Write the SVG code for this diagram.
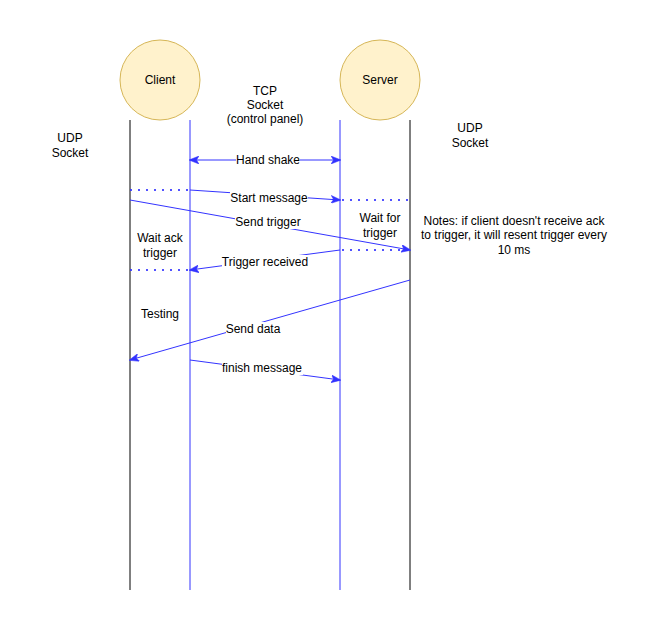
<svg xmlns="http://www.w3.org/2000/svg" width="651" height="632" viewBox="0 0 651 632">
<style>
text{font-family:"Liberation Sans",Arial,sans-serif;font-size:12px;fill:#000;text-anchor:middle;dominant-baseline:central}
.life{stroke:#000;stroke-width:1;fill:none}
.blue{stroke:#3333ff;stroke-width:1;fill:none}
.dot{stroke:#3333ff;stroke-width:2;stroke-dasharray:2 6;fill:none;opacity:0.85}
.actor{fill:#fff2cc;stroke:#d6b656;stroke-width:1}
.bg{fill:#fff}
</style>
<defs>
<marker id="arr" markerUnits="userSpaceOnUse" viewBox="0 0 10 8" markerWidth="10" markerHeight="8" refX="9" refY="4" orient="auto-start-reverse">
<path d="M0,0 L10,4 L0,8 L2.5,4 z" fill="#3333ff" stroke="#3333ff" stroke-width="0.5"/>
</marker>
</defs>
<rect width="651" height="632" fill="#fff"/>
<g id="client"><circle class="actor" cx="160" cy="80" r="40"/><text x="160" y="80">Client</text></g>
<g id="server"><circle class="actor" cx="380" cy="80" r="40"/><text x="380" y="80">Server</text></g>
<g id="lifelines">
<line class="life" x1="130" y1="120" x2="130" y2="590"/>
<line class="blue" x1="190" y1="120" x2="190" y2="590"/>
<line class="blue" x1="340" y1="120" x2="340" y2="590"/>
<line class="life" x1="410" y1="120" x2="410" y2="590"/>
</g>
<g id="labels">
<text x="70" y="138">UDP</text><text x="70" y="153">Socket</text>
<text x="265" y="91">TCP</text><text x="265" y="105">Socket</text><text x="265" y="119">(control panel)</text>
<text x="470" y="128">UDP</text><text x="470" y="143">Socket</text>
<text x="380" y="218">Wait for</text><text x="380" y="233">trigger</text>
<text x="160" y="238">Wait ack</text><text x="160" y="253">trigger</text>
<text x="160" y="314">Testing</text>
<text x="514" y="221">Notes: if client doesn't receive ack</text>
<text x="514" y="235">to trigger, it will resent trigger every</text>
<text x="514" y="250">10 ms</text>
</g>
<g id="connectors">
<line class="blue" x1="190" y1="160" x2="340" y2="160" marker-start="url(#arr)" marker-end="url(#arr)"/>
<line class="dot" x1="130" y1="190" x2="190" y2="190"/>
<line class="blue" x1="190" y1="190" x2="340" y2="200" marker-end="url(#arr)"/>
<line class="dot" x1="342" y1="200" x2="410" y2="200"/>
<line class="blue" x1="130" y1="200" x2="410" y2="250" marker-end="url(#arr)"/>
<line class="dot" x1="342" y1="250" x2="408" y2="250"/>
<line class="blue" x1="340" y1="250" x2="190" y2="270" marker-end="url(#arr)"/>
<line class="dot" x1="130" y1="270" x2="190" y2="270"/>
<line class="blue" x1="410" y1="280" x2="130" y2="360" marker-end="url(#arr)"/>
<line class="blue" x1="190" y1="360" x2="340" y2="380" marker-end="url(#arr)"/>
</g>
<g id="edge-labels">
<rect class="bg" x="236" y="153" width="64" height="14"/><text x="268" y="160">Hand shake</text>
<rect class="bg" x="230" y="191" width="78" height="14"/><text x="269" y="198">Start message</text>
<rect class="bg" x="235" y="215" width="67" height="14"/><text x="268" y="222">Send trigger</text>
<rect class="bg" x="222" y="255" width="87" height="14"/><text x="265" y="262">Trigger received</text>
<rect class="bg" x="226" y="322" width="55" height="14"/><text x="253" y="329">Send data</text>
<rect class="bg" x="222" y="361" width="81" height="14"/><text x="262" y="368">finish message</text>
</g>
</svg>
